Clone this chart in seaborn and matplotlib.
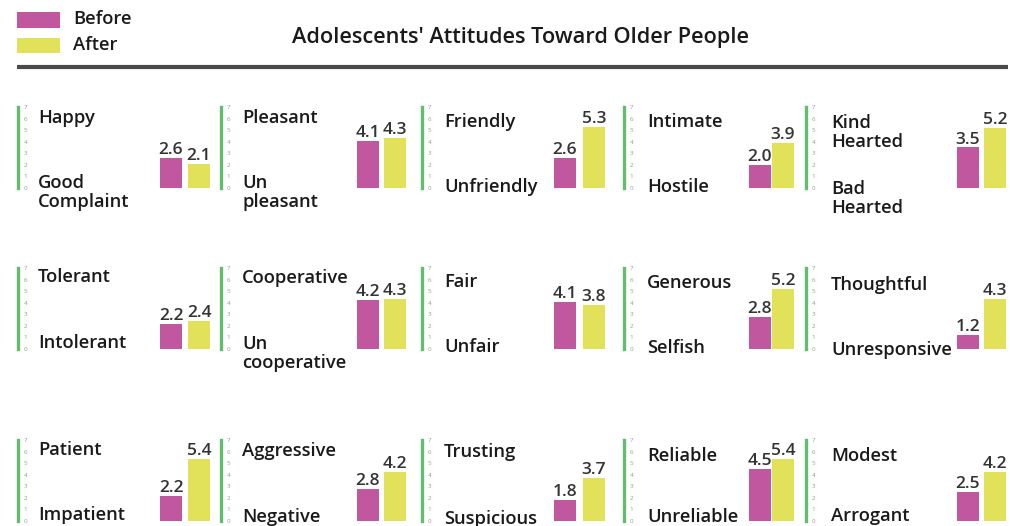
import matplotlib
matplotlib.use("Agg")
import matplotlib.pyplot as plt
from matplotlib.patches import Rectangle
from matplotlib.lines import Line2D
import numpy as np
import pandas as pd
import seaborn as sns

# ---------------- data ----------------
title = "Adolescents' Attitudes Toward Older People"
series_names = ["Before", "After"]
top_labels = ["Happy", "Pleasant", "Friendly", "Intimate", "Kind\nHearted",
              "Tolerant", "Cooperative", "Fair", "Generous", "Thoughtful",
              "Patient", "Aggressive", "Trusting", "Reliable", "Modest"]
bottom_labels = ["Good\nComplaint", "Un\npleasant", "Unfriendly", "Hostile", "Bad\nHearted",
                 "Intolerant", "Un\ncooperative", "Unfair", "Selfish", "Unresponsive",
                 "Impatient", "Negative", "Suspicious", "Unreliable", "Arrogant"]
before_vals = [2.6, 4.1, 2.6, 2.0, 3.5,
               2.2, 4.2, 4.1, 2.8, 1.2,
               2.2, 2.8, 1.8, 4.5, 2.5]
after_vals = [2.1, 4.3, 5.3, 3.9, 5.2,
              2.4, 4.3, 3.8, 5.2, 4.3,
              5.4, 4.2, 3.7, 5.4, 4.2]
tick_vals = [0, 1, 2, 3, 4, 5, 6, 7]

# ---------------- style ----------------
W, H = 1010, 526
sns.set_theme(style="white")
plt.rcParams["font.family"] = ["Open Sans", "DejaVu Sans"]

C_BEFORE = "#C1579F"
C_AFTER = "#E1E259"
C_GREEN = "#62BD6D"
TXT = "#1a1a1a"
LAB_FS = 13.2
VAL_FS = 12.5
LINE_PX = 19

# layout (pixels)
spine_x = [18, 221, 422, 624, 806]
bar_c = [171, 367.5, 565, 760, 968]
bar_sp = [28, 27.5, 29, 23, 27]
bar_w = 22
row_top = [107, 268, 440]
row_bot = [188, 349, 521]
lab_x = [38, 242, 444, 647, 831]
top_base = [[123, 123, 127, 127, 128],
            [282, 283, 287, 288, 290],
            [455, 456, 457, 461, 461]]
bot_base = [[188, 188, 192, 192, 194],
            [348, 349, 352, 353, 355],
            [520, 522, 524, 522, 521]]


def fx(x):
    return x / W


def fy(y):
    return 1 - y / H


def put_label(x, y_first_base, s):
    # draw each line separately so the first baseline lands where wanted
    for k, line in enumerate(s.split("\n")):
        fig.text(fx(x), fy(y_first_base + k * LINE_PX), line, ha="left",
                 va="baseline", fontsize=LAB_FS, fontweight="semibold",
                 color=TXT)


fig = plt.figure(figsize=(W / 100, H / 100), dpi=100)

for i in range(len(top_labels)):
    r, c = divmod(i, 5)
    left = spine_x[c]
    sp = bar_sp[c]
    right = bar_c[c] + 1.5 * sp
    ax = fig.add_axes([fx(left), fy(row_bot[r]), (right - left) / W,
                       (row_bot[r] - row_top[r]) / H])
    ax.patch.set_alpha(0)
    df = pd.DataFrame({"phase": series_names,
                       "value": [before_vals[i], after_vals[i]]})
    sns.barplot(data=df, x="phase", y="value", hue="phase",
                order=series_names, hue_order=series_names,
                palette=[C_BEFORE, C_AFTER], saturation=1,
                width=bar_w / sp, linewidth=0, legend=False, ax=ax)
    for cont in ax.containers:
        ax.bar_label(cont, fmt="%.1f", padding=0, fontsize=VAL_FS,
                     color="#333333", fontweight="semibold")
    ax.set_xlim(-(bar_c[c] - left) / sp, 1.5)
    ax.set_ylim(0, 7)
    ax.set_xticks([])
    ax.set_xlabel("")
    ax.set_ylabel("")
    ax.set_yticks(tick_vals)
    ax.set_yticklabels([str(t) for t in tick_vals])
    ax.tick_params(axis="y", left=False, length=0, pad=-4,
                   labelsize=4.5, labelcolor="#9a9a9a")
    for lab in ax.get_yticklabels():
        lab.set_horizontalalignment("left")
    for s in ["top", "right", "bottom"]:
        ax.spines[s].set_visible(False)
    ax.spines["left"].set_color(C_GREEN)
    ax.spines["left"].set_linewidth(2.4)

    put_label(lab_x[c], top_base[r][c], top_labels[i])
    put_label(lab_x[c], bot_base[r][c], bottom_labels[i])

# title
fig.text(fx(520), fy(37), title, ha="center", va="center", fontsize=15.7,
         fontweight="semibold", color=TXT)

# legend
fig.add_artist(Rectangle((fx(17), fy(28)), 43 / W, 16 / H,
                         transform=fig.transFigure, color=C_BEFORE, lw=0))
fig.add_artist(Rectangle((fx(17), fy(53)), 43 / W, 15 / H,
                         transform=fig.transFigure, color=C_AFTER, lw=0))
fig.text(fx(73), fy(19), series_names[0], ha="left", va="center",
         fontsize=LAB_FS, fontweight="semibold", color=TXT)
fig.text(fx(73), fy(45), series_names[1], ha="left", va="center",
         fontsize=LAB_FS, fontweight="semibold", color=TXT)

# rule
fig.add_artist(Line2D([fx(17), fx(1008)], [fy(67), fy(67)], lw=3,
                      color="#4a4a4a", transform=fig.transFigure,
                      solid_capstyle="butt"))

fig.savefig("out.png", dpi=100)
